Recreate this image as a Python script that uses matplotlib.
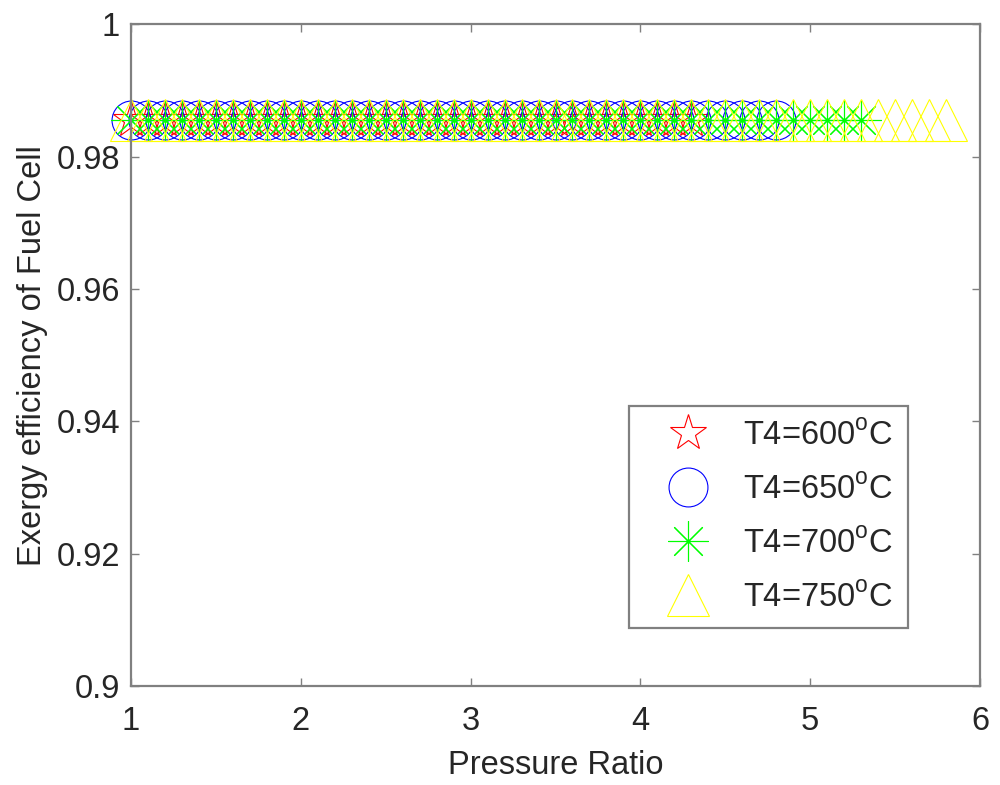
import numpy as np
import matplotlib
matplotlib.use("Agg")
import matplotlib.pyplot as plt

plt.rcParams['font.family'] = ['Liberation Sans', 'DejaVu Sans']
plt.rcParams['mathtext.fontset'] = 'custom'
plt.rcParams['mathtext.rm'] = 'Liberation Sans'

# pressure ratio ranges for each T4 (step 0.1)
pr_600 = [1.0, 1.1, 1.2, 1.3, 1.4, 1.5, 1.6, 1.7, 1.8, 1.9, 2.0, 2.1, 2.2, 2.3, 2.4, 2.5, 2.6, 2.7, 2.8, 2.9,
          3.0, 3.1, 3.2, 3.3, 3.4, 3.5, 3.6, 3.7, 3.8, 3.9, 4.0, 4.1, 4.2, 4.3]
pr_650 = pr_600 + [4.4, 4.5, 4.6, 4.7, 4.8]
pr_700 = pr_650 + [4.9, 5.0, 5.1, 5.2, 5.3]
pr_750 = pr_700 + [5.4, 5.5, 5.6, 5.7, 5.8]

# exergy efficiency of the fuel cell is flat
eff_value = 0.9855

labels = ['T4=600$^{\\rm o}$C', 'T4=650$^{\\rm o}$C', 'T4=700$^{\\rm o}$C', 'T4=750$^{\\rm o}$C']
colors = ['#ff0000', '#0000ff', '#00ff00', '#ffff00']
markers = ['*', 'o', (8, 2, 0), '^']
sizes = [27, 28, 29, 30]

xticks = [1, 2, 3, 4, 5, 6]
yticks = [0.9, 0.92, 0.94, 0.96, 0.98, 1.0]
ytick_labels = ['0.9', '0.92', '0.94', '0.96', '0.98', '1']

fig = plt.figure(figsize=(10, 7.85), dpi=100)
ax = fig.add_axes([0.131, 0.126, 0.849, 0.843])

series = [pr_600, pr_650, pr_700, pr_750]
for xs, lab, c, m, ms in zip(series, labels, colors, markers, sizes):
    ys = np.full(len(xs), eff_value)
    ax.plot(xs, ys, linestyle='none', marker=m, markersize=ms, markerfacecolor='none',
            markeredgecolor=c, markeredgewidth=0.8, label=lab, clip_on=False)

ax.set_xlim(1, 6)
ax.set_ylim(0.9, 1.0)
ax.set_xticks(xticks)
ax.set_xticklabels([str(t) for t in xticks])
ax.set_yticks(yticks)
ax.set_yticklabels(ytick_labels)

text_color = '#262626'
fs = 23.5
ax.tick_params(direction='in', length=6, width=1, colors='#808080', labelcolor=text_color,
               labelsize=fs, top=True, right=True)
ax.tick_params(axis='x', pad=14)
ax.tick_params(axis='y', pad=8)
for s in ax.spines.values():
    s.set_color('#808080')
    s.set_linewidth(1.6)

ax.set_xlabel('Pressure Ratio', fontsize=fs, color=text_color, labelpad=10)
ax.set_ylabel('Exergy efficiency of Fuel Cell', fontsize=fs, color=text_color, labelpad=6)

leg = ax.legend(loc='lower right', bbox_to_anchor=(0.915, 0.088), borderaxespad=0,
                fontsize=fs, numpoints=1, handlelength=2.7, handletextpad=0.34,
                labelspacing=0.7, borderpad=0.45, fancybox=False, framealpha=1)
leg.get_frame().set_edgecolor('#808080')
leg.get_frame().set_linewidth(1.6)
for t in leg.get_texts():
    t.set_color(text_color)

plt.savefig('out.png', dpi=100)
